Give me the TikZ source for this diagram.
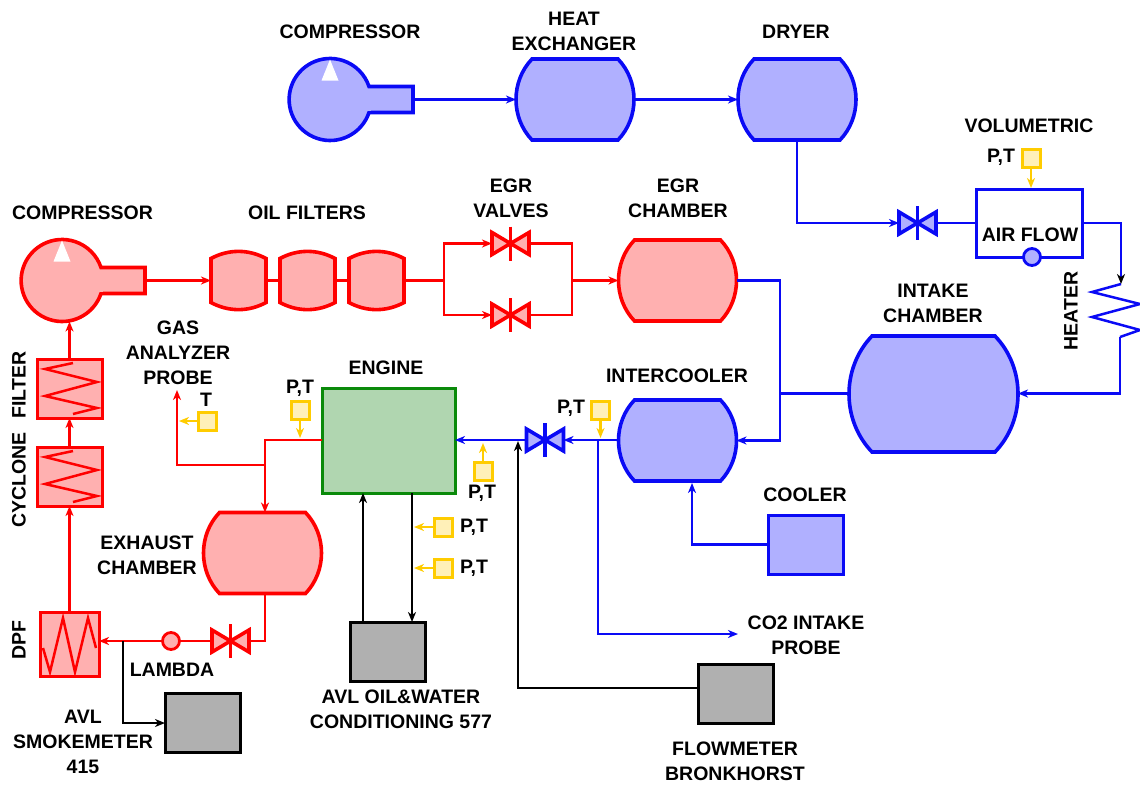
\documentclass[tikz,border=0pt]{standalone}
\usepackage{fontspec}
\setmainfont{Liberation Sans}
\usetikzlibrary{arrows.meta}
\definecolor{rd}{HTML}{FF0000}
\definecolor{rdf}{HTML}{FFB0B0}
\definecolor{bl}{HTML}{0A0AF5}
\definecolor{blf}{HTML}{B0B0FF}
\definecolor{yl}{HTML}{FFCC00}
\definecolor{ylf}{HTML}{FFF0B8}
\definecolor{gf}{HTML}{B0D6B0}
\definecolor{gd}{HTML}{0A8A0A}
\definecolor{gy}{HTML}{B0B0B0}
\tikzset{
  x=1pt,y=-1pt,
  lab/.style={font=\fontsize{19.5}{25}\selectfont\bfseries,align=center,inner sep=0pt,text=black},
  arrowed/.style={-{Stealth[length=10pt,width=8pt,inset=3pt]}},
  pipeline/.style={line width=2.5pt},
  redline/.style={pipeline,draw=rd},
  blueline/.style={pipeline,draw=bl},
  blackline/.style={pipeline,draw=black},
  yellowline/.style={pipeline,draw=yl},
  hold/.style={inner sep=0pt,outer sep=0pt,draw=none,fill=none,rectangle},
  sensor/.style={rectangle,draw=yl,fill=ylf,line width=3pt,minimum size=18pt,inner sep=0pt,outer sep=0pt},
  graybox/.style={rectangle,draw=black,fill=gy,line width=3pt,inner sep=0pt,outer sep=0pt},
  outl/.style={line width=3.6pt,line join=miter},
}
% name, cx, cy, half width, half height, inset, line colour, fill colour
\newcommand\tank[8]{%
  \begin{scope}[shift={(#2,#3)}]
  \draw[outl,draw=#7,fill=#8] ({-#4+#6},{-#5}) -- ({#4-#6},{-#5})
    .. controls ({#4+#6/3},{-#5*0.45}) and ({#4+#6/3},{#5*0.45}) .. ({#4-#6},{#5})
    -- ({-#4+#6},{#5})
    .. controls ({-#4-#6/3},{#5*0.45}) and ({-#4-#6/3},{-#5*0.45}) .. cycle;
  \end{scope}
  \node[hold,minimum width=#4*2pt,minimum height=#5*2pt] (#1) at (#2,#3) {};
}
% name, cx, cy, colour, fill
\newcommand\compressor[5]{%
  \begin{scope}[shift={(#2,#3)}]
  \draw[outl,draw=#4,fill=#5] (39,13) arc[start angle=18.5,end angle=341.5,radius=41] -- (83,-13) -- (83,13) -- cycle;
  \fill[#5] (30,11) rectangle (41,-11);
  \fill[white] (0,-40) -- (8.5,-19) -- (-8.5,-19) -- cycle;
  \end{scope}
  \node[hold,circle,minimum size=82pt] (#1) at (#2,#3) {};
  \node[hold,minimum width=46pt,minimum height=26pt] (#1p) at ({#2+60},#3) {};
}
% name, cx, cy, colour, fill
\newcommand\valve[5]{%
  \begin{scope}[shift={(#2,#3)}]
  \draw[outl,draw=#4,fill=#5] (-18.5,-11) -- (0,0) -- (-18.5,11) -- cycle;
  \draw[outl,draw=#4,fill=#5] (18.5,-11) -- (0,0) -- (18.5,11) -- cycle;
  \draw[outl,draw=#4] (0,-17) -- (0,17);
  \end{scope}
  \node[hold,minimum width=37pt,minimum height=22pt] (#1) at (#2,#3) {};
}
% name, cx, cy
\newcommand\oilfilter[3]{%
  \begin{scope}[shift={(#2,#3)}]
  \draw[outl,draw=rd,fill=rdf] (-27.5,-22) .. controls (-10,-31.5) and (10,-31.5) .. (27.5,-22)
    -- (27.5,22) .. controls (10,31.5) and (-10,31.5) .. (-27.5,22) -- cycle;
  \end{scope}
  \node[hold,minimum width=55pt,minimum height=58pt] (#1) at (#2,#3) {};
}
\begin{document}
\begin{tikzpicture}
\useasboundingbox (0,0) rectangle (1140,785);

% ---- top row (blue)
\compressor{compA}{330}{99.5}{bl}{blf}
\tank{hex}{575}{99.5}{59}{40.5}{16}{bl}{blf}
\tank{dryer}{797}{99.5}{59}{40.5}{16}{bl}{blf}
\valve{valveA}{917.5}{223}{bl}{blf}
\node[hold,draw=bl,line width=3pt,minimum width=106pt,minimum height=68pt] (vol) at (1029,223) {};
\node[circle,draw=bl,fill=blf,line width=2.8pt,minimum size=17pt,inner sep=0pt] (volc) at (1032,257) {};
\tank{intake}{933.5}{394}{84.5}{58}{23}{bl}{blf}
\tank{intercooler}{677.5}{440.5}{59}{40.5}{16}{bl}{blf}
\valve{valveB}{545}{440}{bl}{blf}
\node[rectangle,draw=bl,fill=blf,line width=3pt,minimum width=75pt,minimum height=59pt,inner sep=0pt,outer sep=0pt] (cooler) at (805.5,544.5) {};

% ---- red row
\compressor{compB}{62}{280.5}{rd}{rdf}
\oilfilter{oilA}{238.5}{280.5}
\oilfilter{oilB}{307.5}{280.5}
\oilfilter{oilC}{376.5}{280.5}
\valve{valveC}{510.5}{243.5}{rd}{rdf}
\valve{valveD}{510.5}{315}{rd}{rdf}
\tank{egr}{677.5}{280.5}{59}{40.5}{16}{rd}{rdf}
\tank{exhaust}{262.5}{553}{59}{40.5}{16}{rd}{rdf}
\valve{valveE}{230.5}{641}{rd}{rdf}
\node[circle,draw=rd,fill=rdf,line width=2.8pt,minimum size=17pt,inner sep=0pt,outer sep=0pt] (lambda) at (171,641) {};

\node[rectangle,draw=rd,fill=rdf,line width=3pt,minimum width=65pt,minimum height=59pt,inner sep=0pt,outer sep=0pt] (filter) at (69.5,388.5) {};
\node[rectangle,draw=rd,fill=rdf,line width=3pt,minimum width=65pt,minimum height=59pt,inner sep=0pt,outer sep=0pt] (cyclone) at (69.5,476.5) {};
\node[rectangle,draw=rd,fill=rdf,line width=3pt,minimum width=59pt,minimum height=64pt,inner sep=0pt,outer sep=0pt] (dpf) at (69.5,644) {};
\draw[pipeline,draw=rd] (73,363) -- (45,369) -- (97,382) -- (45,396) -- (97,408) -- (73,414);
\draw[pipeline,draw=rd] (73,451) -- (45,457) -- (97,470) -- (45,484) -- (97,496) -- (73,502);
\draw[pipeline,draw=rd,line join=miter] (43,648) -- (50,672) -- (63,618) -- (75,672) -- (88,618) -- (96,648);

% ---- engine and grey boxes
\node[rectangle,draw=gd,fill=gf,line width=3pt,minimum width=133pt,minimum height=105pt,inner sep=0pt,outer sep=0pt] (engine) at (388.5,440.5) {};
\node[graybox,minimum width=75pt,minimum height=59pt] (oilbox) at (387.5,651.5) {};
\node[graybox,minimum width=75pt,minimum height=59pt] (flow) at (736,694) {};
\node[graybox,minimum width=75pt,minimum height=59pt] (smoke) at (202.5,722.5) {};

% ---- heater
\coordinate (hA) at (1121,284);
\coordinate (hB) at (1120,337);
\coordinate (afterheat) at (1120,393.5);
\draw[blueline] (hA) -- (1092,292) -- (1140,304) -- (1092,317) -- (1140,330) -- (hB);

% ---- blue connectors
\draw[blueline,arrowed] (compAp.east) -- (hex.west);
\draw[blueline,arrowed] (hex.east) -- (dryer.west);
\coordinate (dA) at (797,223);
\draw[blueline,arrowed] (dryer.south) -- (dA) -- (valveA.west);
\draw[blueline] (vol.west |- valveA) -- (valveA.east);
\coordinate (vA) at (1121,223);
\draw[blueline,-{Stealth[length=10pt,width=8pt,inset=3pt,color=black]}] (vol.east |- vA) -- (vA) -- (hA);
\draw[blueline,arrowed] (hB) -- (afterheat) -- (intake.east |- afterheat);
\coordinate (eA) at (780,280.5);
\coordinate (eB) at (780,440.5);
\draw[blueline,arrowed] (egr.east) -- (eA) -- (eB) -- (intercooler.east);
\coordinate (eC) at (780,393.5);
\draw[blueline] (intake.west |- eC) -- (eC);
\draw[blueline,arrowed] (intercooler.west |- valveB) -- (valveB.east);
\draw[blueline,arrowed] (valveB.west) -- (engine.east |- valveB);
\coordinate (cA) at (692,544.5);
\coordinate (cB) at (692,483);
\draw[blueline,arrowed] (cooler.west) -- (cA) -- (cB);
\coordinate (pA) at (598,440);
\coordinate (pB) at (598,634);
\coordinate (pC) at (738,634);
\draw[blueline,arrowed] (pA) -- (pB) -- (pC);

% ---- red connectors
\draw[redline,arrowed] (compBp.east) -- (oilA.west);
\draw[redline] (oilA.east) -- (oilB.west);
\draw[redline] (oilB.east) -- (oilC.west);
\coordinate (rA) at (444,280.5);
\coordinate (rB) at (444,243.5);
\coordinate (rC) at (444,315);
\draw[redline] (oilC.east) -- (rA);
\draw[redline,arrowed] (rA) -- (rB) -- (valveC.west);
\draw[redline,arrowed] (rA) -- (rC) -- (valveD.west);
\coordinate (rD) at (572,243.5);
\coordinate (rE) at (572,315);
\coordinate (rF) at (572,280.5);
\draw[redline] (valveC.east) -- (rD) -- (rE) -- (valveD.east);
\draw[redline,arrowed] (rF) -- (egr.west);
\draw[redline,arrowed] (filter.north) -- (filter.north |- compB.south);
\draw[redline,arrowed] (cyclone.north) -- (filter.south);
\draw[redline,arrowed] (dpf.north) -- (cyclone.south);
\coordinate (xA) at (265,440);
\coordinate (xB) at (265,465);
\coordinate (xC) at (177,465);
\coordinate (xD) at (177,390);
\draw[redline,arrowed] (engine.west |- xA) -- (xA) -- (xA |- exhaust.north);
\draw[redline,arrowed] (xB) -- (xC) -- (xD);
\coordinate (xE) at (265,641);
\draw[redline] (xE |- exhaust.south) -- (xE) -- (valveE.east);
\draw[redline] (valveE.west) -- (lambda.east);
\draw[redline,arrowed] (lambda.west) -- (dpf.east |- lambda);

% ---- black connectors
\coordinate (kA) at (123,641);
\coordinate (kB) at (123,723);
\draw[blackline,arrowed] (kA) -- (kB) -- (smoke.west |- kB);
\coordinate (kC) at (363,622);
\coordinate (kD) at (412,622);
\draw[blackline,arrowed] (kC) -- (kC |- engine.south);
\draw[blackline,arrowed] (kD |- engine.south) -- (kD);
\coordinate (kE) at (518,688);
\coordinate (kF) at (518,441);
\draw[blackline,arrowed] (flow.west |- kE) -- (kE) -- (kF);

% ---- sensors
\node[sensor] (sA) at (1031,158.5) {};
\coordinate (sAt) at (1031,188);
\draw[yellowline,arrowed] (sA.south) -- (sAt);
\node[sensor] (sB) at (207,421) {};
\coordinate (sBt) at (179,421);
\draw[yellowline,arrowed] (sB.west) -- (sBt);
\node[sensor] (sC) at (300,410) {};
\coordinate (sCt) at (300,438);
\draw[yellowline,arrowed] (sC.south) -- (sCt);
\node[sensor] (sD) at (483,471) {};
\coordinate (sDt) at (483,443);
\draw[yellowline,arrowed] (sD.north) -- (sDt);
\node[sensor] (sE) at (600.5,410) {};
\coordinate (sEt) at (600.5,438);
\draw[yellowline,arrowed] (sE.south) -- (sEt);
\node[sensor] (sF) at (443,527) {};
\coordinate (sFt) at (414,527);
\draw[yellowline,arrowed] (sF.west) -- (sFt);
\node[sensor] (sG) at (443,568) {};
\coordinate (sGt) at (414,568);
\draw[yellowline,arrowed] (sG.west) -- (sGt);

% ---- labels
\node[lab] (t1) at (350,31.5) {COMPRESSOR};
\node[lab] (t2) at (574,31.5) {HEAT\\EXCHANGER};
\node[lab] (t3) at (796,31.5) {DRYER};
\node[lab] (t4) at (1029,125.5) {VOLUMETRIC};
\node[lab] (t5) at (1001,157.5) {P,T};
\node[lab] (t6) at (1030,234.5) {AIR FLOW};
\node[lab,rotate=90] (t7) at (1071,311) {HEATER};
\node[lab] (t8) at (933,303.5) {INTAKE\\CHAMBER};
\node[lab] (t9) at (82.5,212.5) {COMPRESSOR};
\node[lab] (t10) at (307,212.5) {OIL FILTERS};
\node[lab] (t11) at (511,198.5) {EGR\\VALVES};
\node[lab] (t12) at (678,198.5) {EGR\\CHAMBER};
\node[lab] (t13) at (677,375.5) {INTERCOOLER};
\node[lab] (t14) at (386,367.5) {ENGINE};
\node[lab] (t15) at (178,352.5) {GAS\\ANALYZER\\PROBE};
\node[lab] (t16) at (206,399.5) {T};
\node[lab] (t17) at (300,388.5) {P,T};
\node[lab] (t18) at (571,408.5) {P,T};
\node[lab] (t19) at (482,493.5) {P,T};
\node[lab] (t20) at (474,527.5) {P,T};
\node[lab] (t21) at (474,568.5) {P,T};
\node[lab] (t22) at (805,494.5) {COOLER};
\node[lab] (t23) at (806,635) {CO2 INTAKE\\PROBE};
\node[lab] (t24) at (735,761.5) {FLOWMETER\\BRONKHORST};
\node[lab] (t25) at (401,709.5) {AVL OIL\&WATER\\CONDITIONING 577};
\node[lab] (t26) at (147,555) {EXHAUST\\CHAMBER};
\node[lab] (t27) at (172,669.5) {LAMBDA};
\node[lab] (t28) at (83,741.5) {AVL\\SMOKEMETER\\415};
\node[lab,rotate=90] (t29) at (19,385) {FILTER};
\node[lab,rotate=90] (t30) at (19,480) {CYCLONE};
\node[lab,rotate=90] (t31) at (19,640) {DPF};
\end{tikzpicture}
\end{document}
